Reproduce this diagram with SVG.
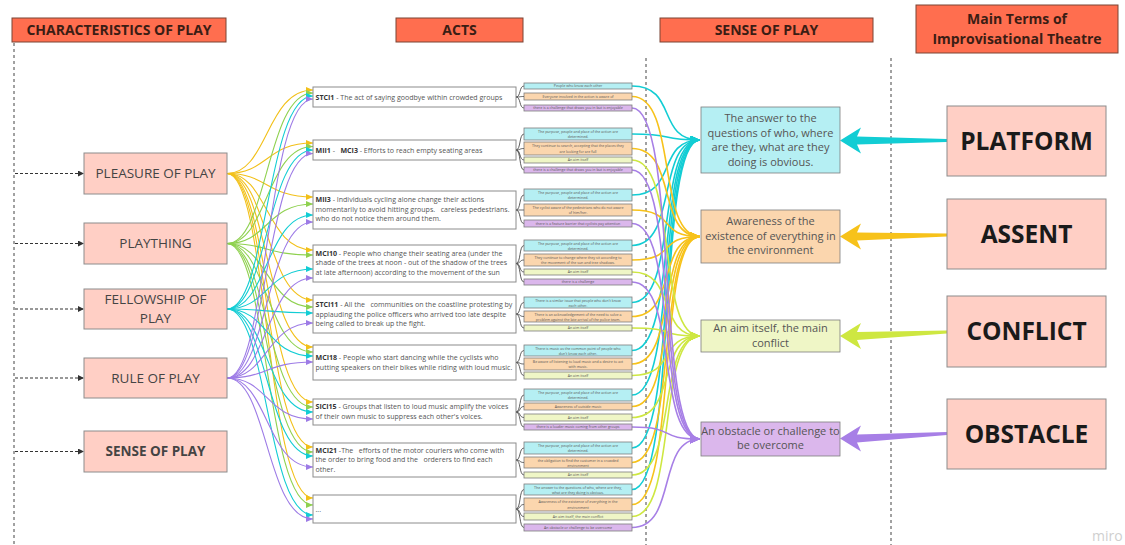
<svg xmlns="http://www.w3.org/2000/svg" width="1125" height="545" viewBox="0 0 1125 545">
<style>
text{font-family:"Open Sans","Liberation Sans",sans-serif}
.hdr{fill:#ff6e4f;stroke:#7a4535;stroke-width:1}
.hdrt{font-size:14px;font-weight:700;fill:#3b1d14;text-anchor:middle}
.node{fill:#ffcfc5;stroke:#8c8c8c;stroke-width:1}
.nt{font-size:13.5px;fill:#444;text-anchor:middle}
.term{font-size:24.5px;font-weight:700;fill:#1a1a1a;text-anchor:middle}
.act{fill:#fff;stroke:#8c8c8c;stroke-width:1}
.at{font-size:7.05px;fill:#555;white-space:pre}
.b{font-weight:700;fill:#333}
.sb{stroke:#7d7d7d;stroke-width:0.8}
.st{font-size:3.6px;fill:#555;text-anchor:middle}
.sn{font-size:11px;fill:#555;text-anchor:middle}
.c{fill:#b5eff3}.o{fill:#fbd6ae}.g{fill:#eff6c6}.p{fill:#dbb7ec}
.vd{stroke:#444;stroke-width:1;stroke-dasharray:3 3;fill:none}
.da{stroke:#333;stroke-width:1;stroke-dasharray:3 2;fill:none;marker-end:url(#mk)}
.ll path{fill:none;stroke-width:1.1}
.rl path{fill:none;stroke-width:1.6}
.br path{fill:none;stroke:#333;stroke-width:0.8}
</style>
<defs>
<marker id="mk" viewBox="0 0 6 6" refX="6" refY="3" markerWidth="6" markerHeight="6" markerUnits="userSpaceOnUse" orient="auto"><path d="M0 0L6 3L0 6z" fill="#333"/></marker>
<marker id="ly" viewBox="0 0 7 6" refX="7" refY="3" markerWidth="7" markerHeight="6" markerUnits="userSpaceOnUse" orient="auto"><path d="M0 0L7 3L0 6z" fill="#f2c019"/></marker>
<marker id="lg" viewBox="0 0 7 6" refX="7" refY="3" markerWidth="7" markerHeight="6" markerUnits="userSpaceOnUse" orient="auto"><path d="M0 0L7 3L0 6z" fill="#8fd14f"/></marker>
<marker id="lc" viewBox="0 0 7 6" refX="7" refY="3" markerWidth="7" markerHeight="6" markerUnits="userSpaceOnUse" orient="auto"><path d="M0 0L7 3L0 6z" fill="#12cdd4"/></marker>
<marker id="lp" viewBox="0 0 7 6" refX="7" refY="3" markerWidth="7" markerHeight="6" markerUnits="userSpaceOnUse" orient="auto"><path d="M0 0L7 3L0 6z" fill="#9d7be6"/></marker>
<marker id="rc" viewBox="0 0 10 9" refX="10" refY="4.5" markerWidth="10" markerHeight="9" markerUnits="userSpaceOnUse" orient="auto"><path d="M0 0L10 4.5L0 9z" fill="#12cdd4"/></marker>
<marker id="ro" viewBox="0 0 10 9" refX="10" refY="4.5" markerWidth="10" markerHeight="9" markerUnits="userSpaceOnUse" orient="auto"><path d="M0 0L10 4.5L0 9z" fill="#f7c21a"/></marker>
<marker id="rg" viewBox="0 0 10 9" refX="10" refY="4.5" markerWidth="10" markerHeight="9" markerUnits="userSpaceOnUse" orient="auto"><path d="M0 0L10 4.5L0 9z" fill="#cee741"/></marker>
<marker id="rp" viewBox="0 0 10 9" refX="10" refY="4.5" markerWidth="10" markerHeight="9" markerUnits="userSpaceOnUse" orient="auto"><path d="M0 0L10 4.5L0 9z" fill="#a77fe6"/></marker>
</defs>
<rect width="1125" height="545" fill="#fff"/>

<g id="headers">
<rect class="hdr" x="12" y="18" width="214" height="24"/><text class="hdrt" x="119" y="35">CHARACTERISTICS OF PLAY</text>
<rect class="hdr" x="396" y="18" width="127" height="24"/><text class="hdrt" x="459.5" y="35">ACTS</text>
<rect class="hdr" x="660" y="18" width="213" height="24"/><text class="hdrt" x="766.5" y="35">SENSE OF PLAY</text>
<rect class="hdr" x="916" y="5" width="202" height="48"/><text class="hdrt" x="1017" y="24">Main Terms of</text><text class="hdrt" x="1017" y="43.5">Improvisational Theatre</text>
</g>

<g id="dividers">
<line class="vd" x1="14" y1="43" x2="14" y2="545"/>
<line class="vd" x1="646" y1="58" x2="646" y2="545"/>
<line class="vd" x1="891" y1="58" x2="891" y2="545"/>
</g>

<g id="connectors">
<g class="dashed">
<path class="da" d="M15 173.5H84"/><path class="da" d="M15 243.5H84"/><path class="da" d="M15 309H84"/><path class="da" d="M15 378H84"/><path class="da" d="M15 451.5H84"/>
</g>
<g class="ll" stroke="#f2c019" marker-end="url(#ly)">
<path d="M227 173.5C268 173.5 266 90 313 90"/><path d="M227 173.5C268 173.5 266 143 313 143"/><path d="M227 173.5C268 173.5 266 197 313 197"/><path d="M227 173.5C268 173.5 266 250 313 250"/><path d="M227 173.5C268 173.5 266 300 313 300"/><path d="M227 173.5C268 173.5 266 347 313 347"/><path d="M227 173.5C268 173.5 266 402 313 402"/><path d="M227 173.5C268 173.5 266 447 313 447"/><path d="M227 173.5C268 173.5 266 498 313 498"/>
</g>
<g class="ll" stroke="#8fd14f" marker-end="url(#lg)">
<path d="M227 243.5C268 243.5 266 93 313 93"/><path d="M227 243.5C268 243.5 266 146.5 313 146.5"/><path d="M227 243.5C268 243.5 266 204 313 204"/><path d="M227 243.5C268 243.5 266 255 313 255"/><path d="M227 243.5C268 243.5 266 307 313 307"/><path d="M227 243.5C268 243.5 266 352 313 352"/><path d="M227 243.5C268 243.5 266 407 313 407"/><path d="M227 243.5C268 243.5 266 452 313 452"/><path d="M227 243.5C268 243.5 266 505 313 505"/>
</g>
<g class="ll" stroke="#12cdd4" marker-end="url(#lc)">
<path d="M227 309C268 309 266 96 313 96"/><path d="M227 309C268 309 266 150 313 150"/><path d="M227 309C268 309 266 215 313 215"/><path d="M227 309C268 309 266 269 313 269"/><path d="M227 309C268 309 266 313 313 313"/><path d="M227 309C268 309 266 356 313 356"/><path d="M227 309C268 309 266 412 313 412"/><path d="M227 309C268 309 266 456 313 456"/><path d="M227 309C268 309 266 515 313 515"/>
</g>
<g class="ll" stroke="#9d7be6" marker-end="url(#lp)">
<path d="M227 378C268 378 266 99 313 99"/><path d="M227 378C268 378 266 153.5 313 153.5"/><path d="M227 378C268 378 266 222 313 222"/><path d="M227 378C268 378 266 278 313 278"/><path d="M227 378C268 378 266 323 313 323"/><path d="M227 378C268 378 266 362 313 362"/><path d="M227 378C268 378 266 419 313 419"/><path d="M227 378C268 378 266 467 313 467"/><path d="M227 378C268 378 266 519 313 519"/>
</g>
<g class="br">
<path d="M516 97C521 97 519 86 524 86"/><path d="M516 97C521 97 519 96.5 524 96.5"/><path d="M516 97C521 97 519 108 524 108"/>
<path d="M516 150C521 150 519 134 524 134"/><path d="M516 150C521 150 519 148.5 524 148.5"/><path d="M516 150C521 150 519 160 524 160"/><path d="M516 150C521 150 519 170 524 170"/>
<path d="M516 210C521 210 519 195 524 195"/><path d="M516 210C521 210 519 210 524 210"/><path d="M516 210C521 210 519 223.5 524 223.5"/>
<path d="M516 263.5C521 263.5 519 245.5 524 245.5"/><path d="M516 263.5C521 263.5 519 260 524 260"/><path d="M516 263.5C521 263.5 519 272 524 272"/><path d="M516 263.5C521 263.5 519 282 524 282"/>
<path d="M516 314C521 314 519 302.5 524 302.5"/><path d="M516 314C521 314 519 316.5 524 316.5"/><path d="M516 314C521 314 519 328 524 328"/>
<path d="M516 362.5C521 362.5 519 350.5 524 350.5"/><path d="M516 362.5C521 362.5 519 364 524 364"/><path d="M516 362.5C521 362.5 519 375.5 524 375.5"/>
<path d="M516 412C521 412 519 395 524 395"/><path d="M516 412C521 412 519 406.5 524 406.5"/><path d="M516 412C521 412 519 417.5 524 417.5"/><path d="M516 412C521 412 519 427 524 427"/>
<path d="M516 460C521 460 519 448 524 448"/><path d="M516 460C521 460 519 462.5 524 462.5"/><path d="M516 460C521 460 519 475 524 475"/>
<path d="M516 509C521 509 519 489.5 524 489.5"/><path d="M516 509C521 509 519 504.5 524 504.5"/><path d="M516 509C521 509 519 516.5 524 516.5"/><path d="M516 509C521 509 519 527.5 524 527.5"/>
</g>
<g class="rl" stroke="#12cdd4" marker-end="url(#rc)">
<path d="M632 86C678 86 656 140 700 140"/><path d="M632 134C678 134 656 140 700 140"/><path d="M632 195C678 195 656 140 700 140"/><path d="M632 245.5C678 245.5 656 140 700 140"/><path d="M632 302.5C678 302.5 656 140 700 140"/><path d="M632 350.5C678 350.5 656 140 700 140"/><path d="M632 395C678 395 656 140 700 140"/><path d="M632 448C678 448 656 140 700 140"/><path d="M632 489.5C678 489.5 656 140 700 140"/>
</g>
<g class="rl" stroke="#f7c21a" marker-end="url(#ro)">
<path d="M632 96.5C678 96.5 656 236.5 700 236.5"/><path d="M632 148.5C678 148.5 656 236.5 700 236.5"/><path d="M632 210C678 210 656 236.5 700 236.5"/><path d="M632 260C678 260 656 236.5 700 236.5"/><path d="M632 316.5C678 316.5 656 236.5 700 236.5"/><path d="M632 364C678 364 656 236.5 700 236.5"/><path d="M632 406.5C678 406.5 656 236.5 700 236.5"/><path d="M632 462.5C678 462.5 656 236.5 700 236.5"/><path d="M632 504.5C678 504.5 656 236.5 700 236.5"/>
</g>
<g class="rl" stroke="#cee741" marker-end="url(#rg)">
<path d="M632 160C678 160 656 336 700 336"/><path d="M632 272C678 272 656 336 700 336"/><path d="M632 328C678 328 656 336 700 336"/><path d="M632 375.5C678 375.5 656 336 700 336"/><path d="M632 417.5C678 417.5 656 336 700 336"/><path d="M632 475C678 475 656 336 700 336"/><path d="M632 516.5C678 516.5 656 336 700 336"/>
</g>
<g class="rl" stroke="#a77fe6" marker-end="url(#rp)">
<path d="M632 108C678 108 656 439 700 439"/><path d="M632 170C678 170 656 439 700 439"/><path d="M632 223.5C678 223.5 656 439 700 439"/><path d="M632 282C678 282 656 439 700 439"/><path d="M632 427C678 427 656 439 700 439"/><path d="M632 527.5C678 527.5 656 439 700 439"/>
</g>
<g class="big">
<polygon fill="#12cdd4" points="840,140.5 861,127.5 857,136.5 947,139 947,142 857,144.5 861,153.5"/>
<polygon fill="#f7c21a" points="840,236.5 861,223.5 857,232.5 947,233.5 947,236.5 857,240.5 861,249.5"/>
<polygon fill="#cee741" points="840,336 861,323 857,332 947,330.5 947,333.5 857,340 861,349"/>
<polygon fill="#a77fe6" points="840,438.5 861,425.5 857,434.5 947,432 947,435 857,442.5 861,451.5"/>
</g>
</g>

<g id="node-pleasure"><rect class="node" x="84" y="153" width="143" height="41"/><text class="nt" x="155.5" y="178.3">PLEASURE OF PLAY</text></g>
<g id="node-plaything"><rect class="node" x="84" y="223" width="143" height="41"/><text class="nt" x="155.5" y="248.3">PLAYTHING</text></g>
<g id="node-fellowship"><rect class="node" x="84" y="289" width="143" height="40"/><text class="nt" x="155.5" y="304">FELLOWSHIP OF</text><text class="nt" x="155.5" y="323">PLAY</text></g>
<g id="node-rule"><rect class="node" x="84" y="358" width="143" height="40"/><text class="nt" x="155.5" y="382.8">RULE OF PLAY</text></g>
<g id="node-sense"><rect class="node" x="84" y="431" width="143" height="41"/><text class="nt" x="155.5" y="456.3" font-weight="700" fill="#333">SENSE OF PLAY</text></g>

<g id="act-stci1"><rect class="act" x="313" y="87" width="203" height="20"/><text class="at" x="315.5" y="99.5"><tspan class="b">STCI1</tspan> - The act of saying goodbye within crowded groups</text></g>
<g id="act-mii1"><rect class="act" x="313" y="140" width="203" height="20"/><text class="at" x="315.5" y="152.5"><tspan class="b">MII1</tspan> -   <tspan class="b">MCI3</tspan> - Efforts to reach empty seating areas</text></g>
<g id="act-mii3"><rect class="act" x="313" y="191" width="203" height="38"/><text class="at" x="315.5" y="201.5"><tspan class="b">MII3</tspan> - Individuals cycling alone change their actions</text><text class="at" x="315.5" y="211.5">momentarily to avoid hitting groups.   careless pedestrians.</text><text class="at" x="315.5" y="221">who do not notice them around them.</text></g>
<g id="act-mci10"><rect class="act" x="313" y="245" width="203" height="37"/><text class="at" x="315.5" y="255.5"><tspan class="b">MCI10</tspan> - People who change their seating area (under the</text><text class="at" x="315.5" y="265.3">shade of the trees at noon - out of the shadow of the trees</text><text class="at" x="315.5" y="275">at late afternoon) according to the movement of the sun</text></g>
<g id="act-stci11"><rect class="act" x="313" y="295" width="203" height="38"/><text class="at" x="315.5" y="306.5"><tspan class="b">STCI11</tspan> - All the   communities on the coastline protesting by</text><text class="at" x="315.5" y="316.5">applauding the police officers who arrived too late despite</text><text class="at" x="315.5" y="326.3">being called to break up the fight.</text></g>
<g id="act-mci18"><rect class="act" x="313" y="345" width="203" height="35"/><text class="at" x="315.5" y="360"><tspan class="b">MCI18</tspan> - People who start dancing while the cyclists who</text><text class="at" x="315.5" y="369.7">putting speakers on their bikes while riding with loud music.</text></g>
<g id="act-sici15"><rect class="act" x="313" y="399" width="203" height="26"/><text class="at" x="315.5" y="408.5"><tspan class="b">SICI15</tspan> - Groups that listen to loud music amplify the voices</text><text class="at" x="315.5" y="419">of their own music to suppress each other's voices.</text></g>
<g id="act-mci21"><rect class="act" x="313" y="443" width="203" height="34"/><text class="at" x="315.5" y="452.5"><tspan class="b">MCI21</tspan> -The   efforts of the motor couriers who come with</text><text class="at" x="315.5" y="462.3">the order to bring food and the   orderers to find each</text><text class="at" x="315.5" y="471.8">other.</text></g>
<g id="act-more"><rect class="act" x="313" y="495" width="203" height="28"/><text class="at" x="315.5" y="512">...</text></g>

<g id="items-1">
<rect class="sb c" x="524" y="83" width="108" height="6"/><text class="st" x="578" y="87.3">People who know each other</text>
<rect class="sb o" x="524" y="93" width="108" height="7"/><text class="st" x="578" y="97.8">Everyone involved in the action is aware of</text>
<rect class="sb p" x="524" y="105" width="108" height="6"/><text class="st" x="578" y="109.3">there is a challenge that draws you in but is enjoyable</text>
</g>
<g id="items-2">
<rect class="sb c" x="524" y="128" width="108" height="12"/><text class="st" x="578" y="133">The purpose, people and place of the action are</text><text class="st" x="578" y="138">determined.</text>
<rect class="sb o" x="524" y="142" width="108" height="13"/><text class="st" x="578" y="147.3">They continue to search, accepting that the places they</text><text class="st" x="578" y="152.5">are looking for are full</text>
<rect class="sb g" x="524" y="157" width="108" height="6"/><text class="st" x="578" y="161.3">An aim itself</text>
<rect class="sb p" x="524" y="167" width="108" height="6"/><text class="st" x="578" y="171.3">there is a challenge that draws you in but is enjoyable</text>
</g>
<g id="items-3">
<rect class="sb c" x="524" y="189" width="108" height="12"/><text class="st" x="578" y="194">The purpose, people and place of the action are</text><text class="st" x="578" y="199">determined.</text>
<rect class="sb o" x="524" y="204" width="108" height="12"/><text class="st" x="578" y="209">The cyclist aware of the pedestrians who do not aware</text><text class="st" x="578" y="214">of him/her.</text>
<rect class="sb p" x="524" y="220" width="108" height="7"/><text class="st" x="578" y="224.8">there is a feature barrier that cyclists pay attention</text>
</g>
<g id="items-4">
<rect class="sb c" x="524" y="240" width="108" height="11"/><text class="st" x="578" y="244.7">The purpose, people and place of the action are</text><text class="st" x="578" y="249.5">determined.</text>
<rect class="sb o" x="524" y="254" width="108" height="12"/><text class="st" x="578" y="259">They continue to change where they sit according to</text><text class="st" x="578" y="264">the movement of the sun and tree shadows.</text>
<rect class="sb g" x="524" y="269" width="108" height="6"/><text class="st" x="578" y="273.3">An aim itself</text>
<rect class="sb p" x="524" y="279" width="108" height="6"/><text class="st" x="578" y="283.3">there is a challenge</text>
</g>
<g id="items-5">
<rect class="sb c" x="524" y="297" width="108" height="11"/><text class="st" x="578" y="301.7">There is a similar issue that people who don't know</text><text class="st" x="578" y="306.5">each other.</text>
<rect class="sb o" x="524" y="311" width="108" height="11"/><text class="st" x="578" y="315.7">There is an acknowledgement of the need to solve a</text><text class="st" x="578" y="320.5">problem against the late arrival of the police team.</text>
<rect class="sb g" x="524" y="325" width="108" height="6"/><text class="st" x="578" y="329.3">An aim itself</text>
</g>
<g id="items-6">
<rect class="sb c" x="524" y="345" width="108" height="11"/><text class="st" x="578" y="349.7">There is music as the common point of people who</text><text class="st" x="578" y="354.5">don't know each other.</text>
<rect class="sb o" x="524" y="358" width="108" height="12"/><text class="st" x="578" y="363">Be aware of listening to loud music and a desire to act</text><text class="st" x="578" y="368">with music.</text>
<rect class="sb g" x="524" y="372" width="108" height="7"/><text class="st" x="578" y="376.8">An aim itself</text>
</g>
<g id="items-7">
<rect class="sb c" x="524" y="389" width="108" height="12"/><text class="st" x="578" y="394">The purpose, people and place of the action are</text><text class="st" x="578" y="399">determined.</text>
<rect class="sb o" x="524" y="403" width="108" height="7"/><text class="st" x="578" y="407.8">Awareness of outside music</text>
<rect class="sb g" x="524" y="414" width="108" height="7"/><text class="st" x="578" y="418.8">An aim itself</text>
<rect class="sb p" x="524" y="424" width="108" height="6"/><text class="st" x="578" y="428.3">there is a louder music coming from other groups</text>
</g>
<g id="items-8">
<rect class="sb c" x="524" y="442" width="108" height="12"/><text class="st" x="578" y="447">The purpose, people and place of the action are</text><text class="st" x="578" y="452">determined.</text>
<rect class="sb o" x="524" y="457" width="108" height="11"/><text class="st" x="578" y="461.7">the obligation to find the customer in a crowded</text><text class="st" x="578" y="466.5">environment</text>
<rect class="sb g" x="524" y="472" width="108" height="6"/><text class="st" x="578" y="476.3">An aim itself</text>
</g>
<g id="items-9">
<rect class="sb c" x="524" y="484" width="108" height="11"/><text class="st" x="578" y="488.7">The answer to the questions of who, where are they,</text><text class="st" x="578" y="493.5">what are they doing is obvious.</text>
<rect class="sb o" x="524" y="498" width="108" height="13"/><text class="st" x="578" y="503.3">Awareness of the existence of everything in the</text><text class="st" x="578" y="508.5">environment</text>
<rect class="sb g" x="524" y="513" width="108" height="7"/><text class="st" x="578" y="517.8">An aim itself, the main conflict</text>
<rect class="sb p" x="524" y="524" width="108" height="7"/><text class="st" x="578" y="528.8">An obstacle or challenge to be overcome</text>
</g>

<g id="sense-platform"><rect class="sb c" x="701" y="107" width="139" height="66" stroke-width="1"/><text class="sn" x="770.5" y="122">The answer to the</text><text class="sn" x="770.5" y="136.5">questions of who, where</text><text class="sn" x="770.5" y="151">are they, what are they</text><text class="sn" x="770.5" y="165.5">doing is obvious.</text></g>
<g id="sense-assent"><rect class="sb o" x="701" y="210" width="139" height="53" stroke-width="1"/><text class="sn" x="770.5" y="225">Awareness of the</text><text class="sn" x="770.5" y="239.5">existence of everything in</text><text class="sn" x="770.5" y="254">the environment</text></g>
<g id="sense-conflict"><rect class="sb g" x="701" y="320" width="139" height="32" stroke-width="1"/><text class="sn" x="770.5" y="332.3">An aim itself, the main</text><text class="sn" x="770.5" y="346.7">conflict</text></g>
<g id="sense-obstacle"><rect class="sb p" x="701" y="422" width="139" height="34" stroke-width="1"/><text class="sn" x="770.5" y="435">An obstacle or challenge to</text><text class="sn" x="770.5" y="449">be overcome</text></g>

<g id="term-platform"><rect class="node" x="947" y="106" width="159" height="70"/><text class="term" x="1026.5" y="149.5">PLATFORM</text></g>
<g id="term-assent"><rect class="node" x="947" y="199" width="159" height="70"/><text class="term" x="1026.5" y="242.5">ASSENT</text></g>
<g id="term-conflict"><rect class="node" x="947" y="296" width="159" height="71"/><text class="term" x="1026.5" y="340">CONFLICT</text></g>
<g id="term-obstacle"><rect class="node" x="947" y="399" width="159" height="70"/><text class="term" x="1026.5" y="442.5">OBSTACLE</text></g>

<text x="1092" y="541" font-size="14" fill="#cfcfcf">miro</text>
</svg>
